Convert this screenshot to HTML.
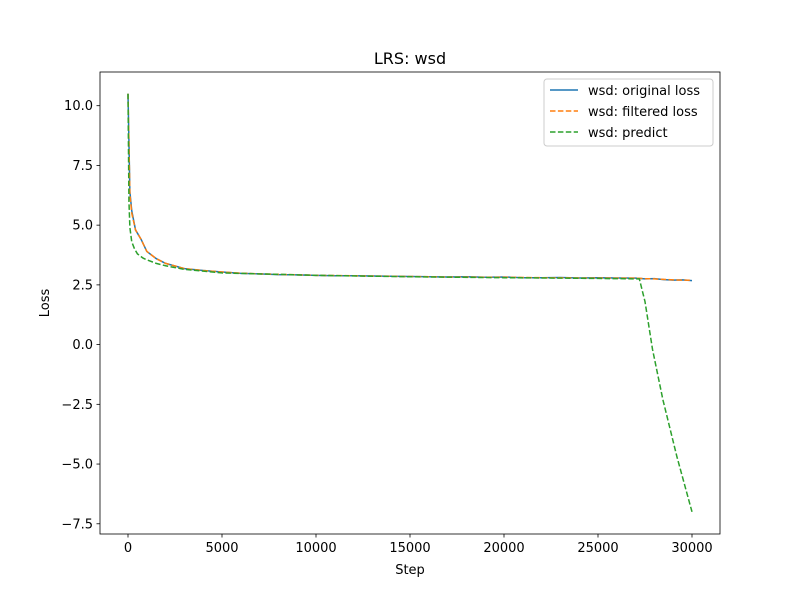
<!DOCTYPE html>
<html><head><meta charset="utf-8"><style>
body{margin:0;background:#fff;font-family:"Liberation Sans","DejaVu Sans",sans-serif}
svg text{font-family:"DejaVu Sans","Liberation Sans",sans-serif;font-size:13px;fill:#000}
</style></head><body>
<svg id="c" width="800" height="600" xmlns="http://www.w3.org/2000/svg">
<rect width="800" height="600" fill="#fff"/>
<text x="410" y="64" text-anchor="middle" style="font-size:16px">LRS: wsd</text>
<g id="plot"></g>
<rect x="100" y="72" width="620" height="462" fill="none" stroke="#000" stroke-width="0.8"/>
<g id="axes"></g>
<text x="410" y="574" text-anchor="middle">Step</text>
<text transform="translate(49,303) rotate(-90)" text-anchor="middle">Loss</text>
<g>
<rect x="544" y="79" width="169" height="67" rx="3" fill="#fff" fill-opacity="0.8" stroke="#ccc"/>
<g><line x1="550" y1="90" x2="578" y2="90" stroke="#1f77b4" stroke-width="1.5"/><text x="588" y="95">wsd: original loss</text></g>
<g><line x1="550" y1="111" x2="578" y2="111" stroke="#ff7f0e" stroke-width="1.5" stroke-dasharray="5.5,2.4"/><text x="588" y="116">wsd: filtered loss</text></g>
<g><line x1="550" y1="132" x2="578" y2="132" stroke="#2ca02c" stroke-width="1.5" stroke-dasharray="5.5,2.4"/><text x="588" y="137">wsd: predict</text></g>
</g>
</svg>
<script>
const steps=[0,100,200,400,700,1000,1500,2000,3000,4000,5000,6000,7000,8000,9000,10000,11000,12000,13000,14000,15000,16000,17000,18000,19000,20000,21000,22000,23000,24000,25000,26000,27000,27500,28000,28500,29000,29500,30000];
const original=[10.5,6.4,5.6,4.8,4.4,3.9,3.6,3.4,3.18,3.1,3.04,2.98,2.96,2.93,2.92,2.9,2.88,2.88,2.87,2.86,2.85,2.84,2.83,2.84,2.82,2.83,2.8,2.8,2.81,2.79,2.8,2.79,2.78,2.75,2.76,2.72,2.7,2.71,2.68];
const filtered=[10.5,6.3,5.5,4.8,4.4,3.9,3.6,3.4,3.18,3.1,3.04,2.99,2.96,2.94,2.92,2.9,2.89,2.88,2.87,2.86,2.85,2.84,2.83,2.83,2.82,2.82,2.81,2.8,2.8,2.79,2.79,2.78,2.78,2.76,2.75,2.73,2.71,2.7,2.69];
const predSteps=[0,50,100,200,350,500,800,1000,1500,2000,3000,5000,10000,15000,20000,25000,27200,27500,27900,28450,29200,30000];
const predict=[10.5,6.0,4.9,4.3,4.0,3.8,3.62,3.55,3.4,3.3,3.15,3.0,2.9,2.84,2.8,2.77,2.75,1.8,-0.2,-2.3,-4.7,-7.0];
const xTicks=[0,5000,10000,15000,20000,25000,30000];
const yTicks=[-7.5,-5.0,-2.5,0.0,2.5,5.0,7.5,10.0];
const X=s=>128+s*564/30000, Y=v=>344.6-v*23.89;
const NS="http://www.w3.org/2000/svg";
const plot=document.getElementById('plot'), axes=document.getElementById('axes');
function line(xs,ys,color,dash,name){
  const p=document.createElementNS(NS,'polyline');
  p.setAttribute('points',xs.map((s,i)=>X(s)+','+Y(ys[i])).join(' '));
  p.setAttribute('fill','none');p.setAttribute('stroke',color);p.setAttribute('stroke-width','1.5');
  if(dash)p.setAttribute('stroke-dasharray','5.5,2.4');
  
  
  plot.appendChild(p);
}
line(steps,original,'#1f77b4',false,'original-loss-line');
line(steps,filtered,'#ff7f0e',true,'filtered-loss-line');
line(predSteps,predict,'#2ca02c',true,'predict-line');
xTicks.forEach(t=>{
  const g=document.createElementNS(NS,'g');
  
  
  g.innerHTML=`<line x1="${X(t)}" y1="534" x2="${X(t)}" y2="537.5" stroke="#000" stroke-width="0.8"/><text x="${X(t)}" y="552" text-anchor="middle">${t}</text>`;
  axes.appendChild(g);
});
yTicks.forEach(t=>{
  const g=document.createElementNS(NS,'g');
  
  
  g.innerHTML=`<line x1="96.5" y1="${Y(t)}" x2="100" y2="${Y(t)}" stroke="#000" stroke-width="0.8"/><text x="93" y="${Y(t)+4.5}" text-anchor="end">${t.toFixed(1).replace('-','\u2212')}</text>`;
  axes.appendChild(g);
});
</script>
</body></html>
